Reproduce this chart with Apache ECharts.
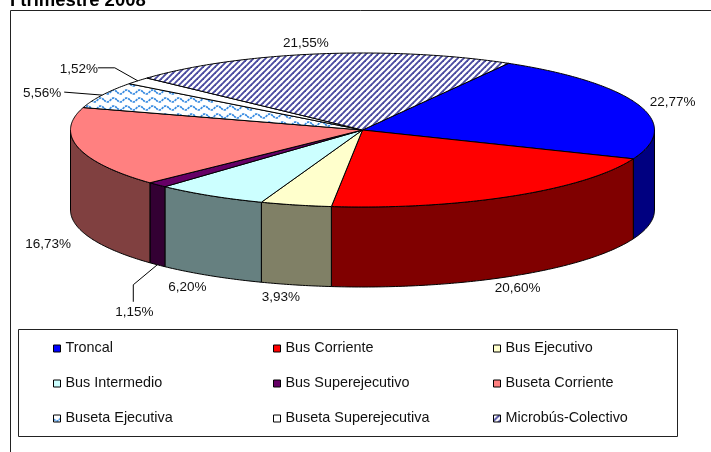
<!DOCTYPE html>
<html><head><meta charset="utf-8">
<style>html,body{margin:0;padding:0;background:#fff}#c{width:711px;height:452px}</style>
<script src="https://cdn.jsdelivr.net/npm/echarts@6/dist/echarts.min.js"></script>
</head><body><div id="c"></div>
<script>
var titleText = 'I trimestre 2008';
var categories = ['Troncal','Bus Corriente','Bus Ejecutivo','Bus Intermedio','Bus Superejecutivo','Buseta Corriente','Buseta Ejecutiva','Buseta Superejecutiva','Microbús-Colectivo'];
var shares = [22.77,20.60,3.93,6.20,1.15,16.73,5.56,1.52,21.55];
var shareLabels = ['22,77%','20,60%','3,93%','6,20%','1,15%','16,73%','5,56%','1,52%','21,55%'];
var topColors = ['#0000FF','#FF0000','#FFFFCC','#CCFFFF','#660066','#FF8080','wave','#FFFFFF','stripes'];
var sideColors = ['#000080','#800000','#808066','#668080','#330033','#804040','#808080','#808080','#808080'];
// label offsets from the slice's rim point, and optional leader knee points
var labelOffsets = [[34,-3],[5,12],[-15,12],[-23,12],[-23,48],[-30,17],[-60,-2],[-59,-12],[-12,-11]];
var leaders = {4:[[-24,20],[-24,37]],6:[[-38,-3]],7:[[-23,-13],[-40,-13]]};
var legendColumns = [[0,3,6],[1,4,7],[2,5,8]];
var legendLefts = [53,273,493];

var FONT = '"Liberation Sans", Arial, sans-serif';
var CX = 362.5, CY = 130, RX = 292, RY = 77, DEPTH = 80, FIRST = 30;

function tile(w,h,draw){var c=document.createElement('canvas');c.width=w;c.height=h;var g=c.getContext('2d');g.fillStyle='#fff';g.fillRect(0,0,w,h);draw(g,w,h);return {image:c,repeat:'repeat'};}
var patterns = {
  stripes: tile(6,6,function(g){g.strokeStyle='#4A4AA0';g.lineWidth=1.9;
    [[-1,7,7,-1],[-7,7,1,-1],[5,7,13,-1]].forEach(function(s){g.beginPath();g.moveTo(s[0],s[1]);g.lineTo(s[2],s[3]);g.stroke();});}),
  wave: tile(13,8,function(g,w){g.strokeStyle='#2F86E0';g.lineWidth=1.7;g.setLineDash([2.4,0.9]);g.beginPath();
    for(var x=0;x<=w;x+=0.5){var y=4+2*Math.sin(x/w*2*Math.PI);if(x===0)g.moveTo(x,y);else g.lineTo(x,y);}g.stroke();})
};
function fillOf(i){var c=topColors[i];return patterns[c]||c;}

var total = shares.reduce(function(a,b){return a+b;},0);
function pt(deg,dy){var r=deg*Math.PI/180;return [CX+RX*Math.sin(r),CY-RY*Math.cos(r)+(dy||0)];}
function arc(a,b,dy){var n=Math.max(2,Math.ceil(Math.abs(b-a)*1.5)),out=[];for(var k=0;k<=n;k++)out.push(pt(a+(b-a)*k/n,dy));return out;}

function renderSlice(i){
  return function(params,api){
    var before=shares.slice(0,i).reduce(function(a,b){return a+b;},0);
    var a=FIRST+before/total*360, b=a+api.value(0)/total*360, mid=(a+b)/2;
    var kids=[];
    var sa=Math.max(a,90), sb=Math.min(b,270);
    if(sb>sa){
      kids.push({type:'polygon',z2:1,shape:{points:arc(sa,sb,0).concat(arc(sb,sa,DEPTH))},
        style:{fill:sideColors[i],stroke:'#000',lineWidth:1,lineJoin:'round'},silent:true});
    }
    kids.push({type:'polygon',z2:2,shape:{points:[[CX,CY]].concat(arc(a,b,0))},
      style:{fill:fillOf(i),stroke:'#000',lineWidth:1,lineJoin:'round'},silent:true});
    var front=(mid>90&&mid<270);
    var anchor=pt(mid,front?DEPTH:0);
    var off=labelOffsets[i];
    if(leaders[i]){
      var pts=[anchor].concat(leaders[i].map(function(o){return [anchor[0]+o[0],anchor[1]+o[1]];}));
      kids.push({type:'polyline',z2:3,shape:{points:pts},style:{fill:null,stroke:'#000',lineWidth:1},silent:true});
    }
    kids.push({type:'text',z2:4,x:anchor[0]+off[0],y:anchor[1]+off[1],silent:true,
      style:{text:shareLabels[i],fill:'#111',font:'13.5px '+FONT,align:'center',verticalAlign:'middle'}});
    return {type:'group',children:kids};
  };
}

var series = categories.map(function(name,i){
  return {type:'custom',name:name,coordinateSystem:'none',silent:true,animation:false,
    itemStyle:{color:fillOf(i)},data:[[shares[i]]],renderItem:renderSlice(i)};
});
var legends = legendColumns.map(function(col,k){
  return {orient:'vertical',left:legendLefts[k],top:341,itemWidth:7,itemHeight:7,itemGap:20,icon:'rect',selectedMode:false,
    data:col.map(function(i){return categories[i];}),
    itemStyle:{borderColor:'#000',borderWidth:1},
    textStyle:{fontFamily:FONT,fontSize:14.4,color:'#111',lineHeight:15},padding:0};
});
var chart = echarts.init(document.getElementById('c'),null,{renderer:'canvas'});
chart.setOption({
  backgroundColor:'#fff',animation:false,tooltip:{show:false},
  title:{text:titleText,left:10,top:-9,padding:0,textStyle:{fontFamily:FONT,fontSize:18.5,fontWeight:'bold',color:'#000'}},
  legend:legends,
  graphic:[
    {type:'polyline',shape:{points:[[10.5,452],[10.5,10.5],[711,10.5]]},style:{fill:null,stroke:'#222',lineWidth:1},silent:true},
    {type:'rect',shape:{x:18.5,y:329.5,width:659,height:107},style:{fill:'#fff',stroke:'#222',lineWidth:1},silent:true}
  ],
  series:series
});
</script></body></html>
